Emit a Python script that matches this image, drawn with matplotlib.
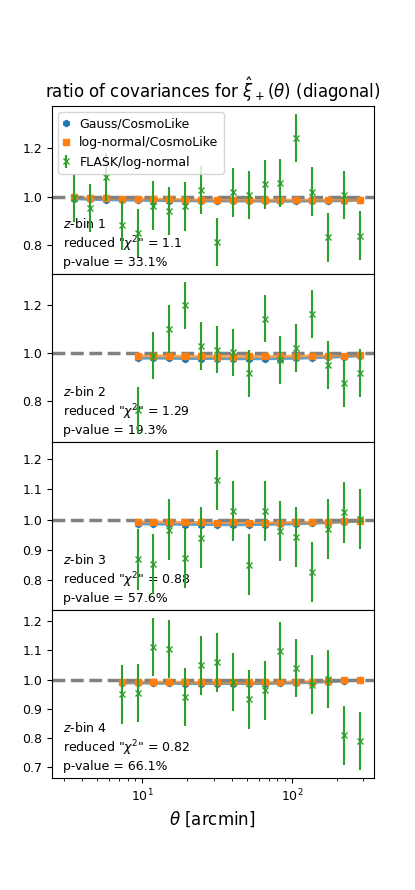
#!/usr/bin/env python

import numpy as np
from matplotlib import pyplot as plt

THETA = [3.53, 4.50, 5.74, 7.33, 9.35, 11.9, 15.2, 19.4, 24.8, 31.6,
         40.3, 51.4, 65.6, 83.7, 107., 136., 174., 222., 283.]
FLASK_ERR = 0.1

# first theta index used in each z-bin
START = [0, 4, 4, 3]

GAUSS = [
    [0.992, 0.990, 0.988, 0.987, 0.986, 0.985, 0.984, 0.984, 0.983, 0.983,
     0.983, 0.983, 0.982, 0.982, 0.982, 0.983, 0.983, 0.984, 0.986],
    [0.978, 0.979, 0.978, 0.977, 0.977, 0.977, 0.976, 0.976, 0.976, 0.977,
     0.978, 0.980, 0.982, 0.985, 0.988],
    [0.986, 0.985, 0.985, 0.984, 0.984, 0.983, 0.983, 0.983, 0.984, 0.985,
     0.986, 0.988, 0.990, 0.992, 0.995],
    [0.988, 0.988, 0.987, 0.987, 0.986, 0.986, 0.986, 0.986, 0.986, 0.986,
     0.987, 0.988, 0.990, 0.992, 0.995, 0.997],
]
LOGNORMAL = [
    [0.998, 0.996, 0.994, 0.993, 0.992, 0.991, 0.990, 0.989, 0.988, 0.988,
     0.988, 0.987, 0.987, 0.987, 0.987, 0.987, 0.987, 0.988, 0.988],
    [0.988, 0.989, 0.987, 0.986, 0.986, 0.985, 0.985, 0.986, 0.986, 0.986,
     0.987, 0.988, 0.988, 0.990, 0.991],
    [0.992, 0.993, 0.992, 0.991, 0.991, 0.990, 0.991, 0.990, 0.990, 0.990,
     0.991, 0.992, 0.993, 0.994, 0.996],
    [0.992, 0.992, 0.991, 0.991, 0.991, 0.990, 0.990, 0.990, 0.990, 0.990,
     0.991, 0.992, 0.993, 0.995, 0.997, 0.998],
]
FLASK = [
    [0.996, 0.955, 1.083, 0.883, 0.851, 0.964, 0.943, 0.961, 1.028, 0.814,
     1.019, 1.008, 1.052, 1.057, 1.244, 1.022, 0.833, 1.008, 0.840],
    [0.760, 0.990, 1.100, 1.200, 1.030, 1.015, 1.003, 0.915, 1.145, 0.970,
     1.020, 1.163, 0.950, 0.873, 0.918],
    [0.869, 0.853, 0.967, 0.874, 0.941, 1.132, 1.029, 0.851, 1.029, 0.962,
     0.943, 0.827, 0.969, 1.024, 1.003],
    [0.949, 0.954, 1.112, 1.105, 0.940, 1.048, 1.059, 0.991, 0.932, 0.963,
     1.097, 1.040, 0.983, 1.002, 0.809, 0.790],
]
CHI2 = ['1.1', '1.29', '0.88', '0.82']
PVAL = ['33.1', '19.3', '57.6', '66.1']

plt.rcParams['font.size'] = 9

fig, axes = plt.subplots(4, 1, sharex=True, figsize=(4.15, 8.9), dpi=100)
fig.subplots_adjust(left=0.125, right=0.9, top=0.881, bottom=0.126, hspace=0)

for i, ax in enumerate(axes):
    th = np.array(THETA[START[i]:])
    g = np.array(GAUSS[i])
    ln = np.array(LOGNORMAL[i])
    fl = np.array(FLASK[i])

    ax.plot(th, g, '-', color='C0', lw=2, alpha=0.7, zorder=2)
    ax.plot(th, g, 'h', color='C0', ms=4.5, zorder=3, label='Gauss/CosmoLike')
    ax.plot(th, ln, '-', color='C1', lw=2, alpha=0.7, zorder=2)
    ax.plot(th, ln, 's', color='C1', ms=4.5, zorder=3, label='log-normal/CosmoLike')
    ax.axhline(1.0, color='gray', ls='--', lw=2.5, zorder=2.5)
    ax.errorbar(th, fl, yerr=FLASK_ERR, fmt='x', color='C2', ms=5,
                elinewidth=1.5, zorder=4, label='FLASK/log-normal')

    ax.text(0.035, 0.03,
            '$z$-bin %d\nreduced "$\\chi^2$" = %s\np-value = %s%%' % (i + 1, CHI2[i], PVAL[i]),
            transform=ax.transAxes, fontsize=9, va='bottom', ha='left')
    ax.set_xscale('log')
    ax.set_xlim(2.5, 350)

axes[0].legend(loc='upper left', fontsize=9, handlelength=0.5)
axes[0].set_title(r'ratio of covariances for $\hat{\xi}_+(\theta)$ (diagonal)', fontsize=12)
axes[-1].set_xlabel(r'$\theta$ [arcmin]', fontsize=12)

plt.savefig('out.png', dpi=100)
